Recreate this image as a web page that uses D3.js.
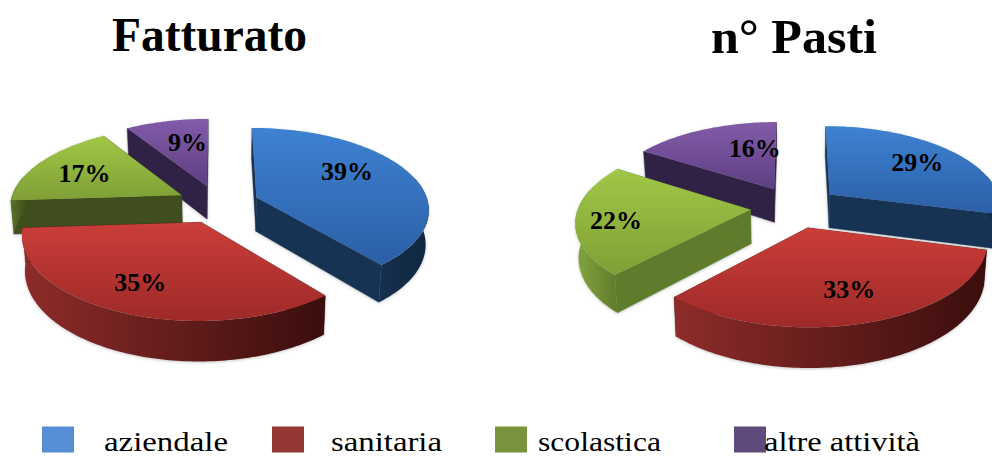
<!DOCTYPE html>
<html><head><meta charset="utf-8">
<script src="https://cdn.jsdelivr.net/npm/d3@7"></script>
<style>html,body{margin:0;padding:0;background:#fff;overflow:hidden}svg{display:block}
text{font-family:"Liberation Serif",serif;fill:#000}</style></head>
<body><svg id="c" width="992" height="457"></svg>
<script>
// ---- data ----
const categories = ["aziendale","sanitaria","scolastica","altre attività"];
const fatturato = [39,35,17,9];
const pasti = [29,33,22,16];
const titles = ["Fatturato","n° Pasti"];

// ---- style / layout ----
const topColors = [["#3e82d2","#2b5fa5"],["#cb3d39","#9e2a28"],["#a0c746","#7f9f36"],["#835ba9","#5d3f82"]];
const wallColors = [["#16304f","#10263f"],["#8d2c2a","#3a0e0d"],["#5a7029","#3f4e1c"],["#3a2a55","#2a1e3f"]];
const legendColors = ["#558ed5","#953735","#77933c","#604a7b"];
const pieLayouts = [
  {values:fatturato, cx:218, cy:204, explode:0.24, edge:["#173353","#4b1514","#3f4e1c","#2f2244"], wallG:["#5a7029","#3f4e1c"],
   nudge:[[5.5,-12],[-18,13.5],[-18,-3],[4,-6]]},
  {values:pasti, cx:795, cy:207, explode:0.26, edge:["#173353","#4b1514","#5e7c2b","#2f2244"], wallG:["#86a53f","#5e7c2b"],
   nudge:[[19,-7],[11,13],[-39,5],[21,-6.5]]}
];
const RX=172, RY=80.4, PERSP=0.132, H=34;
const legendSwatchX=[42,272,495,734], legendTextX=[104,331,538,764], legendTextW=[124,111,123,156];

const svg=d3.select("#c"), defs=svg.append("defs");
const pie=d3.pie().sort(null).value(d=>d);
const line=d3.line().x(d=>d[0]).y(d=>d[1]);

function grad(id,c,vertical){
  const g=defs.append("linearGradient").attr("id",id).attr("x1",0).attr("y1",0)
    .attr("x2",vertical?0:1).attr("y2",vertical?1:0);
  g.append("stop").attr("offset",0).attr("stop-color",c[0]);
  g.append("stop").attr("offset",1).attr("stop-color",c[1]);
  return `url(#${id})`;
}
pieLayouts.forEach((L,pi)=>{
  // true perspective projection of a point on an exploded slice of a flat disc
  const proj=(r,t,mid,base)=>{
    const X=r*Math.sin(t)+L.explode*Math.sin(mid), Y=-r*Math.cos(t)-L.explode*Math.cos(mid), w=1-PERSP*Y;
    const k=base?0.985:1;
    return [RX*X/w*k, RY*Y/w+(base?H/w:0)];
  };
  const arcPts=(a0,a1,mid,base)=>{
    const n=Math.max(2,Math.ceil((a1-a0)/0.02));
    return d3.range(n+1).map(i=>proj(1,a0+(a1-a0)*i/n,mid,base));
  };
  const arcs=pie(L.values).map((d,i)=>({...d,i,mid:(d.startAngle+d.endAngle)/2}));
  const order=arcs.slice().sort((a,b)=>(-Math.cos(a.mid))-(-Math.cos(b.mid)));
  const G=svg.append("g").attr("transform",`translate(${L.cx},${L.cy})`)
    .style("filter","drop-shadow(0 1px 1.5px rgba(0,0,0,.22))");
  const P=svg.append("g").attr("transform",`translate(${L.cx},${L.cy})`);
  order.forEach(d=>{
    const m=d.mid, g=G.append("g");
    const fill=L.edge[d.i];
    [d.startAngle,d.endAngle].forEach(a=>{
      g.append("path").attr("fill",fill).attr("stroke",fill).attr("stroke-width",.4)
       .attr("d",line([proj(0,a,m,false),proj(1,a,m,false),proj(1,a,m,true),proj(0,a,m,true)])+"Z");
    });
    const v0=Math.max(d.startAngle,Math.PI*0.42), v1=Math.min(d.endAngle,Math.PI*1.58);
    if(v1>v0){
      const wc=d.i===2?L.wallG:wallColors[d.i];
      g.append("path").attr("fill",grad(`w${pi}${d.i}`,wc,false))
       .attr("d",line(arcPts(v0,v1,m,false).concat(arcPts(v0,v1,m,true).reverse()))+"Z");
    }
    g.append("path").attr("fill",grad(`t${pi}${d.i}`,topColors[d.i],true))
     .attr("d",line([proj(0,d.startAngle,m,false)].concat(arcPts(d.startAngle,d.endAngle,m,false)))+"Z");
    const lp=proj(0.55,m,m,false), n=L.nudge[d.i];
    P.append("text").attr("x",lp[0]+n[0]).attr("y",lp[1]+n[1]).attr("dy",".33em")
     .attr("text-anchor","middle").attr("font-weight","bold").attr("font-size",26)
     .text(d.value+"%");
  });
});
svg.selectAll(".title").data(titles).enter().append("text").attr("class","title")
  .attr("x",(d,i)=>[112,711][i]).attr("y",(d,i)=>[51,53][i])
  .attr("font-weight","bold").attr("font-size",48)
  .attr("textLength",(d,i)=>[195,166][i]).attr("lengthAdjust","spacingAndGlyphs").text(d=>d);
svg.selectAll(".sw").data(categories).enter().append("rect").attr("class","sw")
  .attr("x",(d,i)=>legendSwatchX[i]).attr("y",426.5).attr("width",32).attr("height",26)
  .attr("fill",(d,i)=>legendColors[i]);
svg.selectAll(".lt").data(categories).enter().append("text").attr("class","lt")
  .attr("x",(d,i)=>legendTextX[i]).attr("y",451).attr("font-size",27)
  .attr("textLength",(d,i)=>legendTextW[i]).attr("lengthAdjust","spacingAndGlyphs").text(d=>d);
</script></body></html>
